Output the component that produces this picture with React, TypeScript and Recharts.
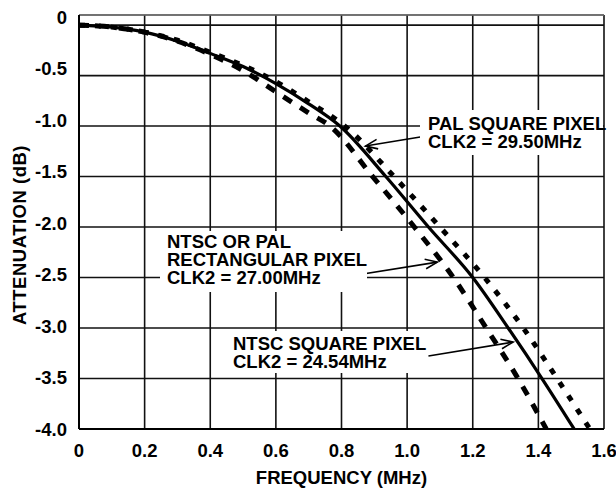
import { CartesianGrid, Line, LineChart, ReferenceLine, XAxis, YAxis } from 'recharts';

const FONT = '"Liberation Sans", Arial, Helvetica, sans-serif';
const FS = 18.5;

const xTicks = [0, 0.2, 0.4, 0.6, 0.8, 1.0, 1.2, 1.4, 1.6];
const yTicks = [0, -0.5, -1.0, -1.5, -2.0, -2.5, -3.0, -3.5, -4.0];

// NTSC square pixel, CLK2 = 24.54MHz (solid)
const squareNtscFreq = [0, 0.1, 0.2, 0.3, 0.4, 0.5, 0.6, 0.7, 0.795, 0.935, 1.065, 1.2, 1.308, 1.411, 1.509];
const squareNtscAtt = [0, -0.02, -0.07, -0.16, -0.28, -0.41, -0.58, -0.78, -1.0, -1.5, -2.0, -2.5, -3.0, -3.5, -4.0];

// NTSC or PAL rectangular pixel, CLK2 = 27.00MHz (long dashes)
const rectFreq = [0, 0.1, 0.2, 0.3, 0.4, 0.5, 0.6, 0.7, 0.765, 0.895, 1.022, 1.141, 1.241, 1.338, 1.424];
const rectAtt = [0, -0.02, -0.07, -0.16, -0.29, -0.45, -0.66, -0.87, -1.0, -1.5, -2.0, -2.5, -3.0, -3.5, -4.0];

// PAL square pixel, CLK2 = 29.50MHz (short dashes)
const squarePalFreq = [0, 0.1, 0.2, 0.3, 0.4, 0.5, 0.6, 0.7, 0.81, 0.96, 1.1, 1.236, 1.354, 1.457, 1.557];
const squarePalAtt = [0, -0.02, -0.07, -0.15, -0.27, -0.4, -0.56, -0.76, -1.0, -1.5, -2.0, -2.5, -3.0, -3.5, -4.0];

const toRows = (f: number[], a: number[]) => f.map((v, i) => ({ f: v, db: a[i] }));

const squareNtscRows = toRows(squareNtscFreq, squareNtscAtt);
const rectRows = toRows(rectFreq, rectAtt);
const squarePalRows = toRows(squarePalFreq, squarePalAtt);

// arrow segments: [tail, tip] in chart units
const arrows = [
  [{ x: 1.04, y: -1.109 }, { x: 0.873, y: -1.198 }],
  [{ x: 0.827, y: -2.485 }, { x: 1.092, y: -2.347 }],
  [{ x: 1.065, y: -3.277 }, { x: 1.323, y: -3.139 }],
];

const labels = [
  { lines: ['PAL SQUARE PIXEL', 'CLK2 = 29.50MHz'], box: [420, 110, 183, 45], text: [428, 114.6] },
  { lines: ['NTSC OR PAL', 'RECTANGULAR PIXEL', 'CLK2 = 27.00MHz'], box: [160, 231, 207, 61], text: [167, 232.6] },
  { lines: ['NTSC SQUARE PIXEL', 'CLK2 = 24.54MHz'], box: [228, 331, 200, 42], text: [233, 334.6] },
];

const fmt = (v: number) => (v === 0 ? '0' : v.toFixed(1));

function XTick({ x, y, payload }: any) {
  return (
    <text x={x} y={y} dy={19.5} textAnchor="middle" fontFamily={FONT} fontWeight="bold" fontSize={FS} fill="#000">
      {fmt(payload.value)}
    </text>
  );
}

function YTick({ x, y, payload }: any) {
  // labels sit a little above their grid lines, more so near the top
  const lift = -8 * (1 + payload.value / 4);
  return (
    <text x={x - 4} y={y + lift} dy={6.6} textAnchor="end" fontFamily={FONT} fontWeight="bold" fontSize={FS} fill="#000">
      {fmt(payload.value)}
    </text>
  );
}

function YTitle() {
  return (
    <text
      x={19}
      y={235}
      transform="rotate(-90, 19, 235)"
      textAnchor="middle"
      dominantBaseline="central"
      fontFamily={FONT}
      fontWeight="bold"
      fontSize={FS}
      letterSpacing={0.5}
      fill="#000"
    >
      ATTENUATION (dB)
    </text>
  );
}

function Arrow(props: any) {
  const { x1, y1, x2, y2 } = props;
  const ang = Math.atan2(y1 - y2, x1 - x2);
  const len = 13;
  const spread = 0.38;
  const a1x = x2 + len * Math.cos(ang + spread);
  const a1y = y2 + len * Math.sin(ang + spread);
  const a2x = x2 + len * Math.cos(ang - spread);
  const a2y = y2 + len * Math.sin(ang - spread);
  return (
    <g stroke="#000" strokeWidth={1.6} fill="none">
      <line x1={x1} y1={y1} x2={x2} y2={y2} />
      <polyline points={`${a1x},${a1y} ${x2},${y2} ${a2x},${a2y}`} />
    </g>
  );
}

export default function App() {
  return (
    <div style={{ position: 'absolute', left: 0, top: 0, width: 616, height: 489, background: '#fff' }}>
      <LineChart width={616} height={489} margin={{ top: 15, right: 12, left: 0, bottom: 0 }}>
        <CartesianGrid stroke="#111" strokeWidth={1.6} />
        <XAxis
          type="number"
          dataKey="f"
          domain={[0, 1.6]}
          ticks={xTicks}
          allowDataOverflow
          height={60}
          tickLine={false}
          axisLine={{ stroke: '#000', strokeWidth: 2 }}
          tick={<XTick />}
          label={{
            value: 'FREQUENCY (MHz)',
            position: 'insideBottom',
            offset: 5,
            style: { fontFamily: FONT, fontWeight: 'bold', fontSize: FS, fill: '#000' },
          }}
        />
        <YAxis
          type="number"
          dataKey="db"
          domain={[-4, 0.1]}
          ticks={yTicks}
          allowDataOverflow
          width={79}
          tickLine={false}
          axisLine={{ stroke: '#000', strokeWidth: 2 }}
          tick={<YTick />}
          label={{ content: () => <YTitle /> }}
        />
        <ReferenceLine y={0.1} stroke="#999" strokeWidth={1} ifOverflow="extendDomain" />
        <Line
          data={rectRows}
          dataKey="db"
          type="monotone"
          stroke="#000"
          strokeWidth={5}
          strokeDasharray="10 10"
          dot={false}
          isAnimationActive={false}
        />
        <Line
          data={squarePalRows}
          dataKey="db"
          type="monotone"
          stroke="#000"
          strokeWidth={5}
          strokeDasharray="6 10"
          dot={false}
          isAnimationActive={false}
        />
        <Line
          data={squareNtscRows}
          dataKey="db"
          type="monotone"
          stroke="#000"
          strokeWidth={3.2}
          dot={false}
          isAnimationActive={false}
        />
        {arrows.map((seg, i) => (
          <ReferenceLine key={i} segment={seg} shape={<Arrow />} ifOverflow="visible" />
        ))}
      </LineChart>
      {labels.map((l, i) => (
        <div key={i}>
          <div
            style={{
              position: 'absolute',
              left: l.box[0],
              top: l.box[1],
              width: l.box[2],
              height: l.box[3],
              background: '#fff',
            }}
          />
          <div
            style={{
              position: 'absolute',
              left: l.text[0],
              top: l.text[1],
              fontFamily: FONT,
              fontWeight: 'bold',
              fontSize: FS,
              lineHeight: '18.4px',
              whiteSpace: 'nowrap',
              color: '#000',
            }}
          >
            {l.lines.map((t) => (
              <div key={t}>{t}</div>
            ))}
          </div>
        </div>
      ))}
    </div>
  );
}
